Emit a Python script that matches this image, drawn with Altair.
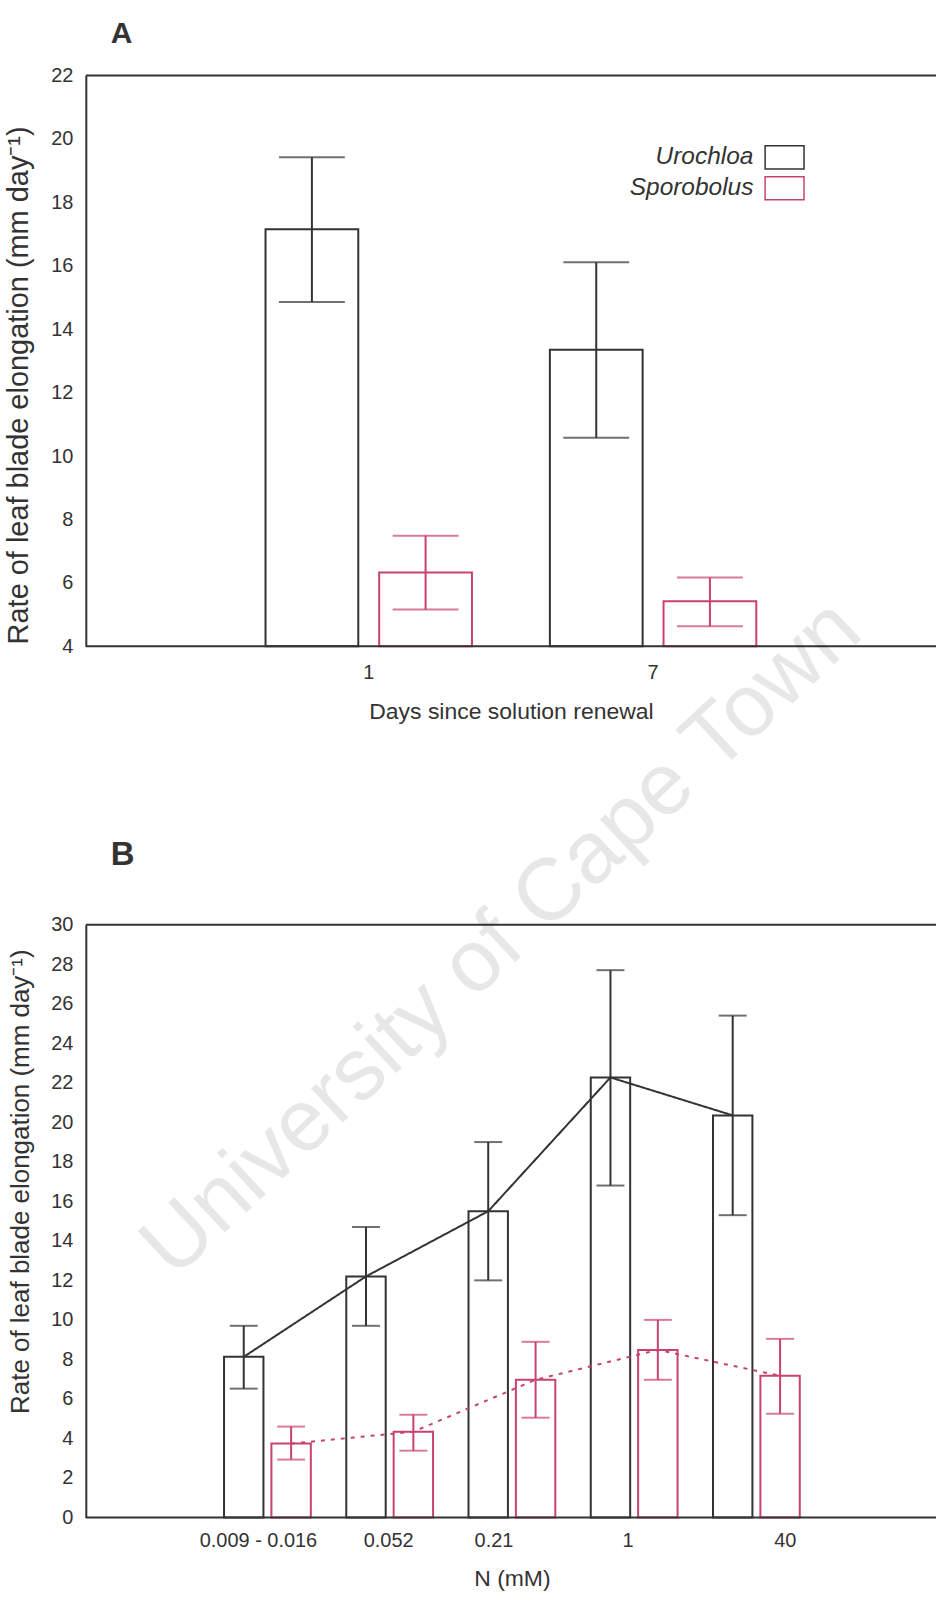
import altair as alt
import pandas as pd

# ---------------- data ----------------
species = ["Urochloa", "Sporobolus"]

# Panel A: days since solution renewal
days = ["1", "7"]
a_uro_mean = [17.15, 13.35]
a_uro_upper = [19.42, 16.11]
a_uro_lower = [14.86, 10.58]
a_spo_mean = [6.33, 5.42]
a_spo_upper = [7.49, 6.17]
a_spo_lower = [5.16, 4.63]
a_y_domain = [4, 22]

# Panel B: N concentration (mM)
n_levels = ["0.009 - 0.016", "0.052", "0.21", "1", "40"]
b_uro_mean = [8.13, 12.2, 15.5, 22.27, 20.35]
b_uro_upper = [9.70, 14.7, 19.0, 27.7, 25.4]
b_uro_lower = [6.52, 9.7, 12.0, 16.8, 15.3]
b_spo_mean = [3.74, 4.34, 6.97, 8.48, 7.17]
b_spo_upper = [4.6, 5.2, 8.89, 10.0, 9.04]
b_spo_lower = [2.93, 3.38, 5.05, 6.97, 5.25]
b_y_domain = [0, 30]

watermark = ["University of Cape Town"]

# ---------------- style ----------------
FONT = "Liberation Sans"
DARK = "#333333"
PINK = "#c9426e"
colors = [DARK, PINK]
Y_TITLE = "Rate of leaf blade elongation (mm day\u207b\u00b9)"
# hand placement of the panel-B category labels in the original figure (px)
B_LABEL_SHIFT = {"0.009 - 0.016": -9, "0.052": -1, "0.21": -18, "1": -6, "40": 29}


def make_frame(key, cats, um, uu, ul, sm, su, sl):
    rows = []
    for sp, m, u, l in (("Urochloa", um, uu, ul), ("Sporobolus", sm, su, sl)):
        for i, c in enumerate(cats):
            rows.append({key: c, "species": sp, "mean": m[i], "upper": u[i], "lower": l[i]})
    return pd.DataFrame(rows)


dfA = make_frame("day", days, a_uro_mean, a_uro_upper, a_uro_lower,
                 a_spo_mean, a_spo_upper, a_spo_lower)
dfB = make_frame("N", n_levels, b_uro_mean, b_uro_upper, b_uro_lower,
                 b_spo_mean, b_spo_upper, b_spo_lower)


def make_x_axis(title, label_pad, title_pad, shifts=None):
    kw = dict(title=title, labelAngle=0, labelFontSize=20, titleFontSize=23,
              titleFontWeight="normal", labelFont=FONT, titleFont=FONT,
              labelColor=DARK, titleColor=DARK, grid=False,
              ticks=False, domain=False, labelPadding=label_pad, titlePadding=title_pad)
    if shifts:
        cond = [{"test": f"datum.value === '{k}'", "value": v} for k, v in shifts.items()]
        try:
            return alt.Axis(labelOffset={"condition": cond, "value": 0}, **kw)
        except Exception:
            pass
    return alt.Axis(**kw)


def panel(df, key, cats, y_domain, y_title_size, title_y, x_axis, xscale,
          off_inner, cap_size, legend, letter, letter_size, letter_offset, lines, width, height):
    xe = alt.X(f"{key}:N", sort=cats, scale=xscale, axis=x_axis)
    xo = alt.XOffset("species:N", sort=species,
                     scale=alt.Scale(paddingInner=off_inner, paddingOuter=0))
    ys = alt.Scale(domain=y_domain, nice=False, zero=False)
    y_axis = alt.Axis(values=list(range(y_domain[0], y_domain[1] + 1, 2)), title=Y_TITLE,
                      titleFontSize=y_title_size, titleY=title_y, titleX=-52,
                      titleFontWeight="normal", labelFont=FONT, titleFont=FONT,
                      labelColor=DARK, titleColor=DARK, grid=False,
                      labelFontSize=20, ticks=False, labelPadding=13,
                      domainColor=DARK, domainWidth=2)

    def Y(field):
        return alt.Y(f"{field}:Q", scale=ys, axis=y_axis, title=Y_TITLE)

    base = alt.Chart(df)
    layers = []
    if legend is not None:
        # invisible hollow points that only carry the species key
        layers.append(base.mark_point(filled=False, opacity=0).encode(
            x=xe, xOffset=xo, y=Y("mean"),
            stroke=alt.Stroke("species:N", sort=species,
                              scale=alt.Scale(domain=species, range=colors), legend=legend)))
    dashes = {"Urochloa": [1, 0], "Sporobolus": [4, 6]}
    for sp, col in zip(species, colors):
        sub = base.transform_filter(alt.datum.species == sp)
        layers.append(sub.mark_bar(filled=False, stroke=col, strokeWidth=2).encode(
            x=xe, xOffset=xo, y=Y("mean"), y2=alt.datum(y_domain[0])))
        if lines:
            layers.append(sub.mark_line(color=col, strokeWidth=2, strokeDash=dashes[sp]).encode(
                x=xe, xOffset=xo, y=Y("mean")))
        layers.append(sub.mark_rule(color=col, strokeWidth=2).encode(
            x=xe, xOffset=xo, y=Y("lower"), y2="upper:Q"))
        layers.append(sub.mark_tick(color=col, thickness=2, size=cap_size).encode(
            x=xe, xOffset=xo, y=Y("upper")))
        layers.append(sub.mark_tick(color=col, thickness=2, size=cap_size).encode(
            x=xe, xOffset=xo, y=Y("lower")))
    frame_df = pd.DataFrame({"edge": y_domain})
    layers.append(alt.Chart(frame_df).mark_rule(color=DARK, strokeWidth=2).encode(y=Y("edge")))
    return layers, dict(width=width, height=height,
                        title=alt.TitleParams(letter, anchor="start", frame="group",
                                              fontSize=letter_size, fontWeight="bold",
                                              font=FONT, color=DARK, dx=25,
                                              offset=letter_offset))


legendA = alt.Legend(title=None, orient="none", legendX=637, legendY=66,
                     symbolType="M1.85,-0.77H4.45V0.77H1.85Z", symbolSize=900,
                     symbolStrokeWidth=1.5, symbolOffset=0, symbolOpacity=1,
                     labelFontSize=24.5, labelFontStyle="italic", labelFont=FONT,
                     labelColor=DARK, labelAlign="right", labelOffset=0,
                     rowPadding=0, padding=0, labelLimit=300)

xscaleA = alt.Scale(paddingInner=0.274, paddingOuter=0.632)
layersA, propsA = panel(dfA, "day", days, a_y_domain, 29, 310,
                        make_x_axis("Days since solution renewal", 16, 18),
                        xscaleA, 0.184, 66, legendA, "A", 30, 17, False, 852, 572)
wm = alt.Chart(pd.DataFrame({"t": watermark})).mark_text(
    angle=317, fontSize=88, font=FONT, color="#000000", opacity=0.09,
    align="center", baseline="middle").encode(
    text="t:N", x=alt.value(417), y=alt.value(865))
chartA = alt.layer(*layersA, wm).properties(**propsA)

xscaleB = alt.Scale(paddingInner=0.29, paddingOuter=0.145, range=[120.75, 733.25])
layersB, propsB = panel(dfB, "N", n_levels, b_y_domain, 26, 257,
                        make_x_axis("N (mM)", 13, 17, B_LABEL_SHIFT),
                        xscaleB, 0.168, 28, None, "B", 33, 43, True, 852, 594)
chartB = alt.layer(*layersB).properties(**propsB)

chart = alt.vconcat(chartA, chartB, spacing=279, bounds="flush").resolve_scale(
    stroke="independent", xOffset="independent"
).resolve_legend(stroke="independent").properties(
    padding={"left": 4, "top": 16, "right": 0, "bottom": 2}, background="white"
).configure_view(stroke="transparent").configure_axis(
    labelFont=FONT, titleFont=FONT, labelColor=DARK, titleColor=DARK,
    titleFontWeight="normal", grid=False
)

chart.save("out.html", embed_options={"renderer": "svg", "actions": False})
